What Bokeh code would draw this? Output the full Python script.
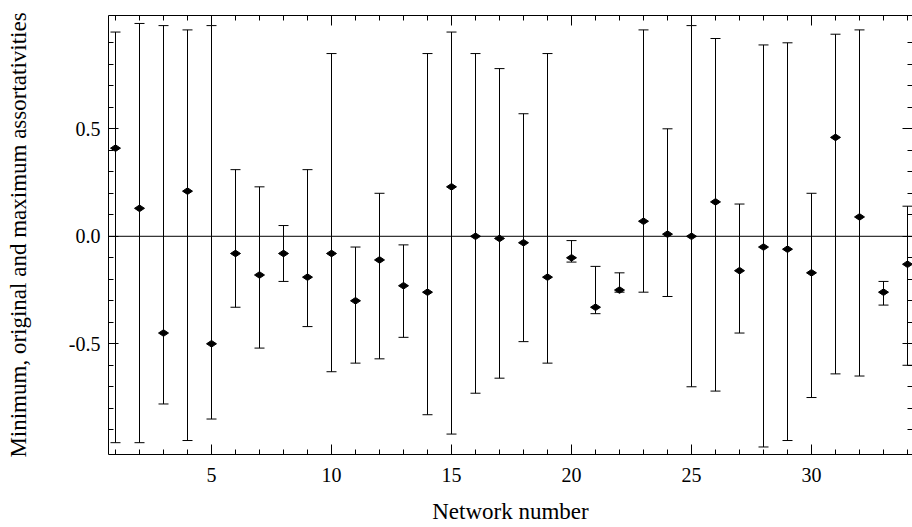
import math
from bokeh.plotting import figure
from bokeh.models import (ColumnDataSource, FixedTicker, LinearAxis, Span,
                          Range1d, PrintfTickFormatter, CustomJSTickFormatter)
from bokeh.embed import file_html
from bokeh.resources import INLINE

network = list(range(1, 35))
minimum = [-0.96, -0.96, -0.78, -0.95, -0.85, -0.33, -0.52, -0.21, -0.42, -0.63,
           -0.59, -0.57, -0.47, -0.83, -0.92, -0.73, -0.66, -0.49, -0.59, -0.12,
           -0.36, -0.26, -0.26, -0.28, -0.70, -0.72, -0.45, -0.98, -0.95, -0.75,
           -0.64, -0.65, -0.32, -0.60]
original = [0.41, 0.13, -0.45, 0.21, -0.50, -0.08, -0.18, -0.08, -0.19, -0.08,
            -0.30, -0.11, -0.23, -0.26, 0.23, 0.00, -0.01, -0.03, -0.19, -0.10,
            -0.33, -0.25, 0.07, 0.01, 0.00, 0.16, -0.16, -0.05, -0.06, -0.17,
            0.46, 0.09, -0.26, -0.13]
maximum = [0.95, 0.99, 0.98, 0.96, 0.98, 0.31, 0.23, 0.05, 0.31, 0.85,
           -0.05, 0.20, -0.04, 0.85, 0.95, 0.85, 0.78, 0.57, 0.85, -0.02,
           -0.14, -0.17, 0.96, 0.50, 0.98, 0.92, 0.15, 0.89, 0.90, 0.20,
           0.94, 0.96, -0.21, 0.14]

x_major = [5, 10, 15, 20, 25, 30]
x_minor = list(range(1, 35))
y_major = [-0.5, 0.0, 0.5]
y_minor = [-0.9, -0.8, -0.7, -0.6, -0.5, -0.4, -0.3, -0.2, -0.1, 0.0,
           0.1, 0.2, 0.3, 0.4, 0.5, 0.6, 0.7, 0.8, 0.9]

src = ColumnDataSource(dict(x=network, lo=minimum, mid=original, hi=maximum))

FONT = "Liberation Serif"

p = figure(width=912, height=527, output_backend="svg", toolbar_location=None,
           x_range=Range1d(0.708, 34.208), y_range=Range1d(-1.015, 1.027),
           min_border_left=108, min_border_right=0, min_border_top=15,
           min_border_bottom=73, x_axis_label="Network number",
           y_axis_label="Minimum, original and maximum assortativities")
p.grid.visible = False
p.outline_line_color = None
p.background_fill_color = "white"
p.border_fill_color = "white"

def style_axis(ax, ticks, minor, show_labels):
    ax.ticker = FixedTicker(ticks=ticks, minor_ticks=minor)
    ax.axis_line_color = "black"
    ax.axis_line_width = 1
    ax.major_tick_line_color = "black"
    ax.minor_tick_line_color = "black"
    ax.major_tick_in = 10
    ax.major_tick_out = 0
    ax.minor_tick_in = 5
    ax.minor_tick_out = 0
    ax.major_label_text_font = FONT
    ax.major_label_text_color = "black"
    if show_labels:
        ax.major_label_text_font_size = "20px"
        ax.axis_label_text_font = FONT
        ax.axis_label_text_font_style = "normal"
        ax.axis_label_text_color = "black"
    else:
        ax.formatter = CustomJSTickFormatter(code="return ''")
        ax.major_label_text_font_size = "1px"
        ax.major_label_standoff = 0

xa = p.xaxis[0]
style_axis(xa, x_major, x_minor, True)
xa.axis_label_text_font_size = "23px"
xa.major_label_standoff = 13
xa.axis_label_standoff = 14

ya = p.yaxis[0]
style_axis(ya, y_major, y_minor, True)
ya.axis_label_text_font_size = "23px"
ya.formatter = PrintfTickFormatter(format="%.1f")
ya.major_label_standoff = 8
ya.axis_label_standoff = 35

top = LinearAxis()
style_axis(top, x_major, x_minor, False)
p.add_layout(top, "above")
right = LinearAxis()
style_axis(right, y_major, y_minor, False)
right.axis_line_color = None
p.add_layout(right, "right")

p.add_layout(Span(location=0, dimension="width", line_color="black", line_width=1))

p.segment(x0="x", y0="lo", x1="x", y1="hi", source=src, line_color="black", line_width=1)
p.scatter(x="x", y="lo", source=src, marker="dash", size=10, line_color="black", line_width=1)
p.scatter(x="x", y="hi", source=src, marker="dash", size=10, line_color="black", line_width=1)
p.scatter(x="x", y="mid", source=src, marker="diamond", size=10, angle=math.pi / 2,
          fill_color="black", line_color="black", line_width=1)

open("out.html", "w").write(file_html(p, INLINE))
